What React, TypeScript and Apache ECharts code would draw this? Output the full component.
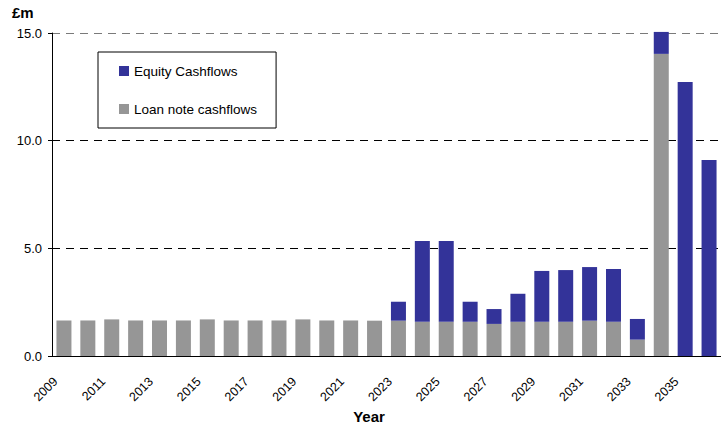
import React, { useEffect, useRef } from "react";
import * as echarts from "echarts";

const years = [
  "2009", "2010", "2011", "2012", "2013", "2014", "2015", "2016", "2017", "2018",
  "2019", "2020", "2021", "2022", "2023", "2024", "2025", "2026", "2027", "2028",
  "2029", "2030", "2031", "2032", "2033", "2034", "2035", "2036",
];

// £m per year, stacked: loan notes underneath, equity on top
const loanNoteCashflows = [
  1.65, 1.65, 1.7, 1.65, 1.65, 1.65, 1.7, 1.65, 1.65, 1.65,
  1.7, 1.65, 1.65, 1.64, 1.64, 1.59, 1.59, 1.59, 1.49, 1.59,
  1.59, 1.59, 1.64, 1.59, 0.76, 14.03, 0, 0,
];
const equityCashflows = [
  0, 0, 0, 0, 0, 0, 0, 0, 0, 0,
  0, 0, 0, 0, 0.88, 3.75, 3.75, 0.93, 0.69, 1.3,
  2.36, 2.4, 2.49, 2.45, 0.96, 1.02, 12.73, 9.1,
];

const yTicks = [0, 5, 10, 15];

const FONT = "'Liberation Sans', Arial, sans-serif";

export default function App() {
  const ref = useRef<HTMLDivElement>(null);

  useEffect(() => {
    if (!ref.current) return;
    const chart = echarts.init(ref.current, null, { renderer: "svg" });
    chart.setOption({
      animation: false,
      textStyle: { fontFamily: FONT },
      grid: { left: 52, top: 33, right: 0, bottom: 74 },
      legend: {
        orient: "vertical",
        left: 98,
        top: 52,
        padding: [12, 19, 12, 21],
        itemGap: 24,
        itemWidth: 10,
        itemHeight: 10,
        borderColor: "#000",
        borderWidth: 1,
        icon: "rect",
        textStyle: { fontFamily: FONT, fontSize: 13.5, color: "#000" },
        data: ["Equity Cashflows", "Loan note cashflows"],
      },
      xAxis: {
        type: "category",
        data: years,
        boundaryGap: true,
        axisLine: { lineStyle: { color: "#000", width: 1 } },
        axisTick: { interval: 0, length: 4, lineStyle: { color: "#000" } },
        axisLabel: {
          interval: 1,
          rotate: 45,
          margin: 15,
          padding: [0, 12, 0, 0],
          fontSize: 12.5,
          color: "#000",
          fontFamily: FONT,
        },
        splitLine: { show: false },
      },
      yAxis: {
        type: "value",
        min: yTicks[0],
        max: yTicks[yTicks.length - 1],
        interval: 5,
        axisLine: { show: true, lineStyle: { color: "#000", width: 1 } },
        axisTick: { show: true, length: 4, lineStyle: { color: "#000" } },
        axisLabel: {
          margin: 10,
          fontSize: 13,
          color: "#000",
          fontFamily: FONT,
          formatter: (v: number) => v.toFixed(1),
        },
        splitLine: {
          show: true,
          lineStyle: {
            type: [8, 6],
            color: ["#000", "#000", "#000", "#7a7a7a"],
            width: 1,
          },
        },
      },
      series: [
        {
          name: "Loan note cashflows",
          type: "bar",
          stack: "cash",
          data: loanNoteCashflows,
          barWidth: 15,
          clip: false,
          itemStyle: { color: "#969696" },
        },
        {
          name: "Equity Cashflows",
          type: "bar",
          stack: "cash",
          data: equityCashflows,
          barWidth: 15,
          clip: false,
          itemStyle: { color: "#333399" },
        },
      ],
      graphic: [
        {
          type: "text",
          left: 12,
          top: 5,
          style: {
            text: "£m",
            font: `bold 15px ${FONT}`,
            fill: "#000",
          },
        },
        {
          type: "text",
          x: 369,
          y: 416,
          style: {
            text: "Year",
            font: `bold 15px ${FONT}`,
            fill: "#000",
            align: "center",
            verticalAlign: "middle",
          },
        },
      ],
    });
    return () => chart.dispose();
  }, []);

  return (
    <div
      ref={ref}
      style={{ width: 721, height: 430, position: "absolute", left: 0, top: 0 }}
    />
  );
}
